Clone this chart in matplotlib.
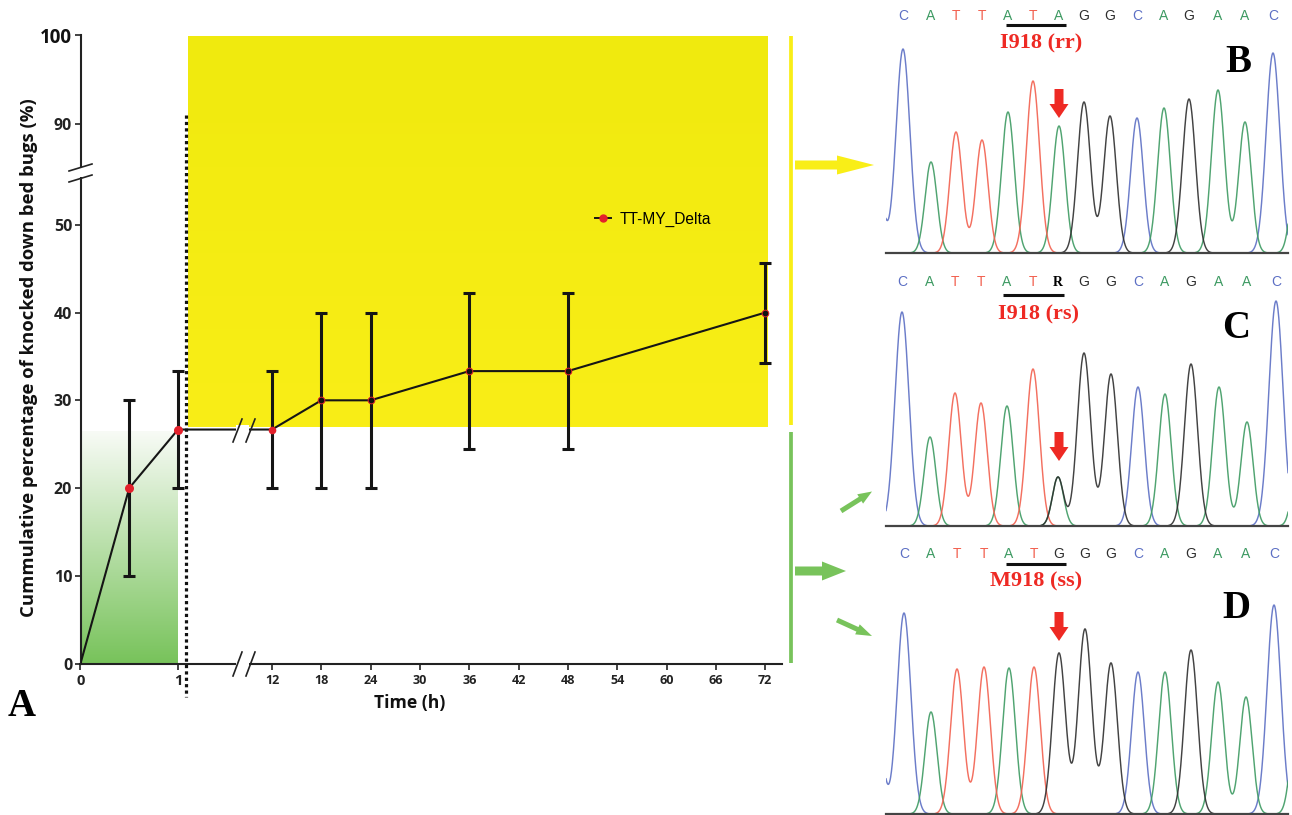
import numpy as np
import matplotlib
matplotlib.use('Agg')
import matplotlib.pyplot as plt
from matplotlib.colors import LinearSegmentedColormap
from matplotlib.patches import FancyArrow, Rectangle

W, H = 1292, 815

# Knockdown curve
time_h = [0, 0.5, 1, 12, 18, 24, 36, 48, 72]
knockdown = [0, 20, 26.67, 26.67, 30, 30, 33.33, 33.33, 40]
err_low = [0, 10, 20, 20, 20, 20, 24.5, 24.5, 34.2]
err_high = [0, 30, 33.33, 33.33, 40, 40, 42.2, 42.2, 45.7]
series_name = 'TT-MY_Delta'

y_ticks = [0, 10, 20, 30, 40, 50, 90, 100]
x_ticks = [0, 1, 12, 18, 24, 30, 36, 42, 48, 54, 60, 66, 72]

# Sequencing traces, peak centre (pixel column) and height
seq_b = list('CATTATAGGCAGAAC')
seq_c = list('CATTATRGGCAGAAC')
seq_d = list('CATTATGGGCAGAAC')

pos_b = [903, 931, 956, 982, 1008, 1033, 1059, 1084, 1110, 1137, 1164, 1189, 1218, 1245, 1273]
pos_c = [902, 930, 955, 981, 1007, 1033, 1058, 1084, 1111, 1138, 1165, 1191, 1219, 1247, 1276]
pos_d = [904, 931, 957, 984, 1009, 1034, 1059, 1085, 1111, 1138, 1165, 1191, 1218, 1246, 1274]

hts_b = [204, 91, 121, 113, 141, 172, 127, 151, 137, 135, 145, 154, 163, 131, 200]
hts_c = [214, 89, 133, 123, 120, 157, 49, 173, 152, 139, 132, 162, 139, 104, 225]
hts_d = [201, 102, 145, 147, 146, 147, 161, 185, 151, 142, 142, 164, 132, 117, 209]

# Peaks that sit just outside the visible window: base, centre, height
edge_b = [('C', 877, 80), ('A', 1297, 90)]
edge_c = [('A', 1299, 80)]
edge_d = [('C', 877, 90), ('A', 1297, 100)]

base_colors = {'C': '#5c6fc4', 'A': '#3d9a62', 'T': '#f2604f', 'G': '#2e2e2e'}
dark = '#222222'
green = '#78c35b'
yellow = '#f9ee17'
red = '#ee2a24'

fig = plt.figure(figsize=(W / 100, H / 100), dpi=100, facecolor='white')


def px_axes(left, top, right, bottom, zorder):
    return fig.add_axes([left / W, 1 - bottom / H, (right - left) / W, (bottom - top) / H], zorder=zorder)


def pixel_layer(zorder):
    layer = px_axes(0, 0, W, H, zorder)
    layer.set_xlim(0, W)
    layer.set_ylim(H, 0)
    layer.axis('off')
    return layer


back = pixel_layer(0)
front = pixel_layer(5)

# Shaded blocks behind the curve
grad = np.linspace(0, 1, 256).reshape(-1, 1)
green_map = LinearSegmentedColormap.from_list('g', ['#f8fbf6', green])
yellow_map = LinearSegmentedColormap.from_list('y', ['#f0ea0e', yellow])
back.imshow(grad, cmap=green_map, extent=(81, 178, 663, 431), aspect='auto')
back.imshow(grad, cmap=yellow_map, extent=(188, 768, 427, 36), aspect='auto')
back.set_xlim(0, W)
back.set_ylim(H, 0)

# Main plot, both axes are broken so a piecewise scale is used
x_from = [0, 1, 8.8, 74]
x_to = [80.5, 178, 245.7, 781.6]
y_from = [0, 55, 85, 100]
y_to = [0, 482.5, 495.5, 628.2]

ax = px_axes(80.5, 35.3, 781.6, 663.5, 3)
ax.patch.set_visible(False)
ax.set_xscale('function', functions=(lambda v: np.interp(v, x_from, x_to),
                                     lambda v: np.interp(v, x_to, x_from)))
ax.set_yscale('function', functions=(lambda v: np.interp(v, y_from, y_to),
                                     lambda v: np.interp(v, y_to, y_from)))
ax.set_xlim(0, 74)
ax.set_ylim(0, 100)

t = np.array(time_h)
k = np.array(knockdown)
low = k - np.array(err_low)
high = np.array(err_high) - k

ax.errorbar(t[1:], k[1:], yerr=[low[1:], high[1:]], fmt='none', ecolor='#151515',
            elinewidth=2.2, capsize=4.6, capthick=2.2, zorder=4)
line, = ax.plot(t, k, '-', color='#151515', lw=1.5, zorder=3)
ax.plot(t[1:3], k[1:3], 'o', color='#e3202b', ms=6.5, mew=0, zorder=5)
ax.plot(t[3:4], k[3:4], 'o', color='#e3202b', ms=5.5, mew=0, zorder=5)
ax.plot(t[4:], k[4:], 'o', mfc='#111111', mec='#e3202b', ms=4.8, mew=0.7, zorder=5)

for side in ['top', 'right']:
    ax.spines[side].set_visible(False)
for side in ['left', 'bottom']:
    ax.spines[side].set_linewidth(1.5)
    ax.spines[side].set_color(dark)

ax.set_xticks(x_ticks)
ax.set_yticks(y_ticks)
ax.minorticks_off()
ax.tick_params(length=4.5, width=1.2, color=dark)
ax.tick_params(axis='y', pad=1.5)
ax.tick_params(axis='x', pad=3)
for lab in ax.get_xticklabels():
    lab.set(family='Open Sans', weight='bold', size=9, color=dark)
for lab in ax.get_yticklabels():
    lab.set(family='Open Sans', weight='bold', size=11.5, color=dark)
ax.get_yticklabels()[-1].set_size(13.5)
ax.get_yticklabels()[-1].set_color('#111111')
ax.get_xticklabels()[0].set_size(10.5)
ax.get_xticklabels()[1].set_size(10.5)

ax.set_xlabel('Time (h)', family='Open Sans', weight='bold', size=12.6, color='#111111')
ax.xaxis.set_label_coords(410 / W, 1 - 694 / H, transform=fig.transFigure)
ax.set_ylabel('Cummulative percentage of knocked down bed bugs (%)', family='Open Sans',
              weight='bold', size=13.3, color='#111111')
ax.yaxis.set_label_coords(38 / W, 1 - 358 / H, transform=fig.transFigure)

handle, = ax.plot([], [], '-o', color='#151515', lw=1.4, mfc='#e3202b', mec='#e3202b', ms=5, label=series_name)
ax.legend(handles=[handle], loc='center left', bbox_to_anchor=(595 / W, 1 - 219 / H),
          bbox_transform=fig.transFigure, frameon=False, borderpad=0, borderaxespad=0,
          handlelength=1.0, handletextpad=0.6, prop={'family': 'Liberation Sans', 'size': 11.2})

# Axis break marks with the gap between them
front.add_patch(Rectangle((236, 425), 13, 245, fc='white', ec='none', zorder=1))
front.add_patch(Rectangle((76, 167), 9, 10, fc='white', ec='none', zorder=1))
for x0 in [233, 246]:
    front.plot([x0, x0 + 9], [442, 419], color=dark, lw=1.2, zorder=2)
    front.plot([x0, x0 + 9], [676, 652], color=dark, lw=1.2, zorder=2)
for y0 in [171, 182]:
    front.plot([69, 92], [y0, y0 - 7], color=dark, lw=1.2, zorder=2)

# Dotted divider
front.plot([186, 186], [115, 697], color='#111111', lw=2.3, ls=(0, (1, 1)), zorder=3)

# Side bars and pointers
front.plot([791, 791], [36, 425], color=yellow, lw=2.7, solid_capstyle='butt')
front.plot([791, 791], [432, 663], color=green, lw=2.7, solid_capstyle='butt')


def arrow(x0, y0, x1, y1, color, width, head_width, head_length):
    front.add_patch(FancyArrow(x0, y0, x1 - x0, y1 - y0, width=width, head_width=head_width,
                               head_length=head_length, length_includes_head=True,
                               fc=color, ec='none', zorder=4))


arrow(795, 165, 874, 165, yellow, 9, 19, 37)
arrow(795, 571, 846, 571, green, 9, 19, 24)
arrow(841, 511, 872, 491.5, green, 5, 11, 14)
arrow(837, 620, 872, 636, green, 5, 11, 16)
arrow(1059, 89, 1059, 118, red, 9, 19, 14)
arrow(1059, 432, 1059, 461, red, 9, 19, 14)
arrow(1059, 612, 1059, 641, red, 9, 19, 14)


# Sequencing traces
def trace_panel(base_y, seq, pos, hts, edge, letter_y, rule, tag, tag_xy, panel, panel_xy):
    tr = px_axes(886, base_y - 230, 1288, base_y, 2)
    tr.set_xlim(886, 1288)
    tr.set_ylim(0, 230)
    tr.axis('off')
    tr.patch.set_visible(False)

    peaks = [(b if b != 'R' else 'A', p, h) for b, p, h in zip(seq, pos, hts)] + edge
    if 'R' in seq:
        i = seq.index('R')
        peaks.append(('G', pos[i], hts[i]))

    xs = np.linspace(886, 1288, 1400)
    for base in 'CATG':
        sig = np.zeros_like(xs)
        for b, p, h in peaks:
            if b == base:
                sig += h * np.exp(-(xs - p) ** 2 / (2 * (5.2 + h / 120) ** 2))
        sig[sig < 0.4] = np.nan
        tr.plot(xs, sig, color=base_colors[base], lw=1.05, alpha=0.9)
    tr.plot([886, 1288], [0, 0], color='#444444', lw=1.6, clip_on=False)

    for b, p in zip(seq, pos):
        if b == 'R':
            front.text(p, letter_y, b, ha='center', va='center', family='Liberation Serif',
                       weight='bold', size=10, color='black')
        else:
            front.text(p, letter_y, b, ha='center', va='center', family='Liberation Sans',
                       size=10, color=base_colors[b])
    front.plot(rule[:2], [rule[2], rule[2]], color='#111111', lw=2.2, solid_capstyle='butt')
    front.text(tag_xy[0], tag_xy[1], tag, ha='center', va='center', family='Liberation Serif',
               weight='bold', size=16, color=red)
    front.text(panel_xy[0], panel_xy[1], panel, ha='center', va='center', family='Liberation Serif',
               weight='bold', size=28, color='black')


trace_panel(253, seq_b, pos_b, hts_b, edge_b, 16, (1006, 1066, 25), 'I918 (rr)', (1041, 43), 'B', (1238, 62))
trace_panel(526, seq_c, pos_c, hts_c, edge_c, 282, (1003, 1064, 295), 'I918 (rs)', (1038, 314), 'C', (1236, 329))
trace_panel(814, seq_d, pos_d, hts_d, edge_d, 554, (1006, 1066, 564), 'M918 (ss)', (1036, 581), 'D', (1236, 608))

front.text(22, 706, 'A', ha='center', va='center', family='Liberation Serif', weight='bold',
           size=28, color='black')

fig.savefig('out.png', dpi=100)
